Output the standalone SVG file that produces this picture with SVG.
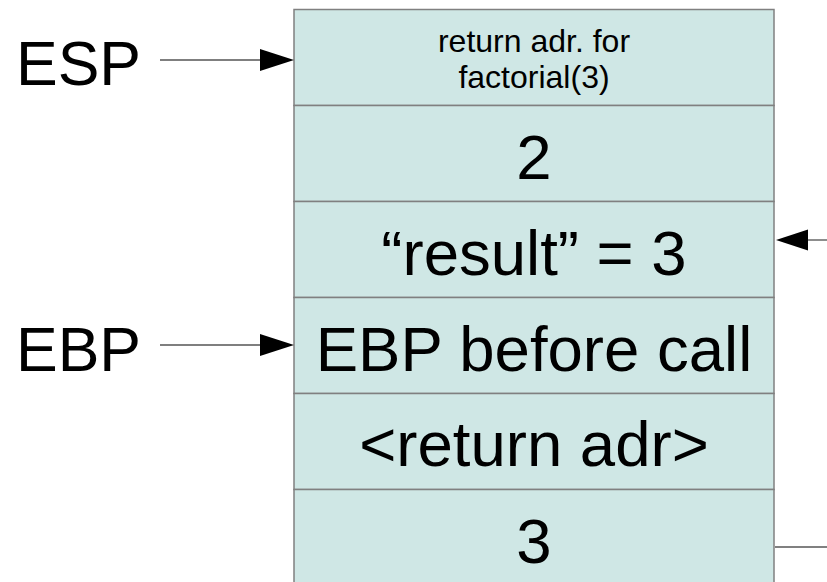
<svg xmlns="http://www.w3.org/2000/svg" width="827" height="582" viewBox="0 0 827 582">
  <style>
    .cell { fill: #cfe7e5; stroke: #808080; stroke-width: 1.5; }
    .big { font-family: "Liberation Sans", Arial, sans-serif; font-size: 63.5px; fill: #000; text-anchor: middle; }
    .small { font-family: "Liberation Sans", Arial, sans-serif; font-size: 32px; fill: #000; text-anchor: middle; }
    .label { font-family: "Liberation Sans", Arial, sans-serif; font-size: 62.5px; fill: #000; }
    .ptr { stroke: #000; stroke-width: 1.2; fill: none; }
    .gray { stroke: #808080; stroke-width: 1.8; fill: none; }
    .head { fill: #000; stroke: none; }
  </style>

  <!-- stack cells, top to bottom -->
  <g id="cell-retaddr-fact3">
    <rect class="cell" x="294" y="9.5" width="480" height="96"/>
    <text class="small" x="534" y="52">return adr. for</text>
    <text class="small" x="534" y="88">factorial(3)</text>
  </g>
  <g id="cell-arg2">
    <rect class="cell" x="294" y="105.5" width="480" height="96"/>
    <text class="big" x="534" y="179">2</text>
  </g>
  <g id="cell-result">
    <rect class="cell" x="294" y="201.5" width="480" height="96"/>
    <text class="big" x="534" y="275">“result” = 3</text>
  </g>
  <g id="cell-saved-ebp">
    <rect class="cell" x="294" y="297.5" width="480" height="96"/>
    <text class="big" x="534" y="371">EBP before call</text>
  </g>
  <g id="cell-return-adr">
    <rect class="cell" x="294" y="393.5" width="480" height="96"/>
    <text class="big" x="534" y="466">&lt;return adr&gt;</text>
  </g>
  <g id="cell-arg3">
    <rect class="cell" x="294" y="489.5" width="480" height="96"/>
    <text class="big" x="534" y="563">3</text>
  </g>

  <!-- register labels -->
  <g id="esp-label">
    <text class="label" x="16" y="85">ESP</text>
  </g>
  <g id="ebp-label">
    <text class="label" x="16" y="371">EBP</text>
  </g>

  <!-- pointers -->
  <g id="connectors">
    <line class="ptr" x1="160" y1="60" x2="262" y2="60"/>
    <polygon class="head" points="294,60 260,49 260,71"/>
    <line class="ptr" x1="160" y1="345" x2="262" y2="345"/>
    <polygon class="head" points="294,345 260,334 260,356"/>
    <line class="gray" x1="806" y1="240" x2="827" y2="240"/>
    <polygon class="head" points="776,240 808,229.5 808,250.5"/>
    <line class="gray" x1="775" y1="547" x2="827" y2="547"/>
  </g>
</svg>
